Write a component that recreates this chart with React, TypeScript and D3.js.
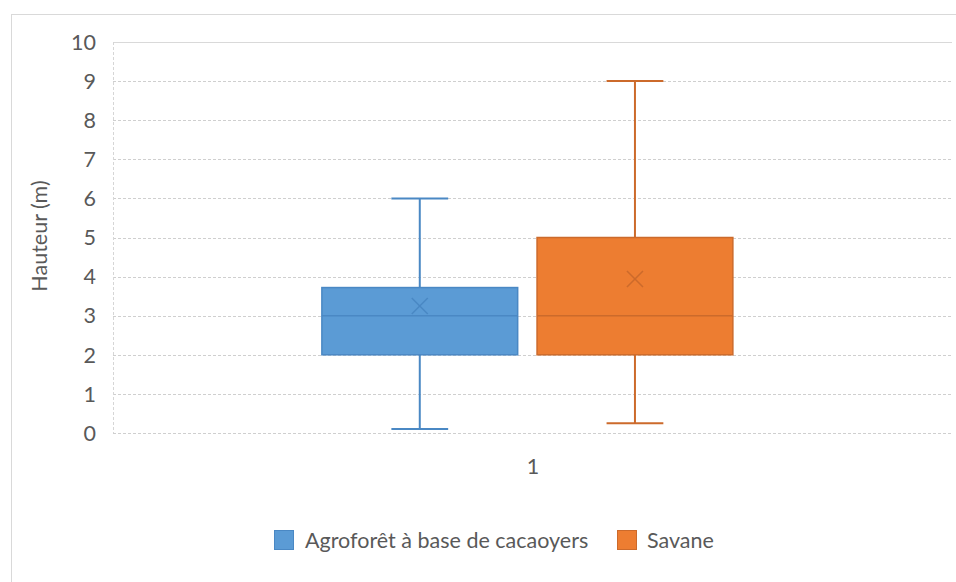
import React from "react";
import * as d3 from "d3";

const categories = ["1"];
const seriesNames = ["Agroforêt à base de cacaoyers", "Savane"];
const seriesColors = ["#5B9BD5", "#ED7D31"];
const seriesStroke = ["#4A88C4", "#CC6A2B"];
const mins = [0.1, 0.25];
const q1s = [2, 2];
const medians = [3, 3];
const q3s = [3.72, 5];
const maxs = [6, 9];
const means = [3.25, 3.94];
const yTicks = [0, 1, 2, 3, 4, 5, 6, 7, 8, 9, 10];
const yTitle = "Hauteur (m)";

const W = 956;
const H = 582;
const plot = { left: 113, right: 952, top: 42, bottom: 433 };
const FONT = "Lato, 'Noto Sans', sans-serif";
const FS = 21.5;

export default function App() {
  const y = d3.scaleLinear().domain([0, 10]).range([plot.bottom, plot.top]);
  const x0 = d3
    .scaleBand<string>()
    .domain(categories)
    .range([plot.left, plot.right])
    .paddingInner(0)
    .paddingOuter(0.5207)
    .align(0.488);
  const x1 = d3
    .scaleBand<string>()
    .domain(seriesNames)
    .range([0, x0.bandwidth()])
    .paddingInner(0.09)
    .paddingOuter(0);

  const legendItems = [
    { name: seriesNames[0], sq: 274, tx: 305 },
    { name: seriesNames[1], sq: 617, tx: 647 },
  ];

  return (
    <svg
      width={W}
      height={H}
      style={{ position: "absolute", left: 0, top: 0, background: "#fff" }}
      fontFamily={FONT}
    >
      <rect x={0} y={0} width={W} height={H} fill="#fff" />
      {/* outer chart border */}
      <rect x={11.5} y={14.5} width={W + 10} height={H + 10} fill="none" stroke="#D9D9D9" strokeWidth={1} />

      {/* gridlines */}
      {yTicks.map((t) => (
        <line
          key={"g" + t}
          x1={plot.left}
          x2={plot.right}
          y1={Math.round(y(t)) + 0.5}
          y2={Math.round(y(t)) + 0.5}
          stroke={t === 10 ? "#D9D9D9" : "#CFCFCF"}
          strokeDasharray={t === 10 ? undefined : "3,2"}
          strokeWidth={1}
        />
      ))}
      <line
        x1={plot.left + 0.5}
        x2={plot.left + 0.5}
        y1={plot.top}
        y2={plot.bottom}
        stroke="#D6D6D6"
        strokeDasharray="3,2"
      />

      {/* y tick labels */}
      {yTicks.map((t) => (
        <text
          key={"t" + t}
          x={96}
          y={y(t)}
          dy="0.36em"
          textAnchor="end"
          fontSize={FS}
          fill="#595959"
        >
          {t}
        </text>
      ))}

      {/* y title */}
      <text
        transform={`translate(39, ${236}) rotate(-90)`}
        textAnchor="middle"
        dy="0.36em"
        fontSize={FS}
        fill="#595959"
      >
        {yTitle}
      </text>

      {/* boxes */}
      {categories.map((c) =>
        seriesNames.map((s, i) => {
          const bx = (x0(c) ?? 0) + (x1(s) ?? 0);
          const bw = x1.bandwidth();
          const cx = bx + bw / 2;
          const capW = bw * 0.29;
          const col = seriesStroke[i];
          const m = y(means[i]);
          const ms = 8;
          return (
            <g key={c + s}>
              <line x1={cx} x2={cx} y1={y(maxs[i])} y2={y(q3s[i])} stroke={col} strokeWidth={2} />
              <line x1={cx} x2={cx} y1={y(q1s[i])} y2={y(mins[i])} stroke={col} strokeWidth={2} />
              <line x1={cx - capW / 2} x2={cx + capW / 2} y1={y(maxs[i])} y2={y(maxs[i])} stroke={col} strokeWidth={2} />
              <line x1={cx - capW / 2} x2={cx + capW / 2} y1={y(mins[i])} y2={y(mins[i])} stroke={col} strokeWidth={2} />
              <rect
                x={bx}
                y={y(q3s[i])}
                width={bw}
                height={y(q1s[i]) - y(q3s[i])}
                fill={seriesColors[i]}
                stroke={col}
                strokeWidth={1.5}
              />
              <line x1={bx} x2={bx + bw} y1={y(medians[i])} y2={y(medians[i])} stroke={col} strokeWidth={1.5} />
              <line x1={cx - ms} x2={cx + ms} y1={m - ms} y2={m + ms} stroke={col} strokeWidth={1.5} />
              <line x1={cx - ms} x2={cx + ms} y1={m + ms} y2={m - ms} stroke={col} strokeWidth={1.5} />
            </g>
          );
        })
      )}

      {/* category label */}
      {categories.map((c) => (
        <text
          key={"c" + c}
          x={533}
          y={466}
          dy="0.36em"
          textAnchor="middle"
          fontSize={FS}
          fill="#595959"
        >
          {c}
        </text>
      ))}

      {/* legend */}
      {legendItems.map((li, i) => (
        <g key={"l" + i}>
          <rect x={li.sq + 0.5} y={530.5} width={19} height={19} fill={seriesColors[i]} stroke={seriesStroke[i]} strokeWidth={1} />
          <text x={li.tx} y={540} dy="0.36em" fontSize={FS} fill="#595959">
            {li.name}
          </text>
        </g>
      ))}
    </svg>
  );
}
